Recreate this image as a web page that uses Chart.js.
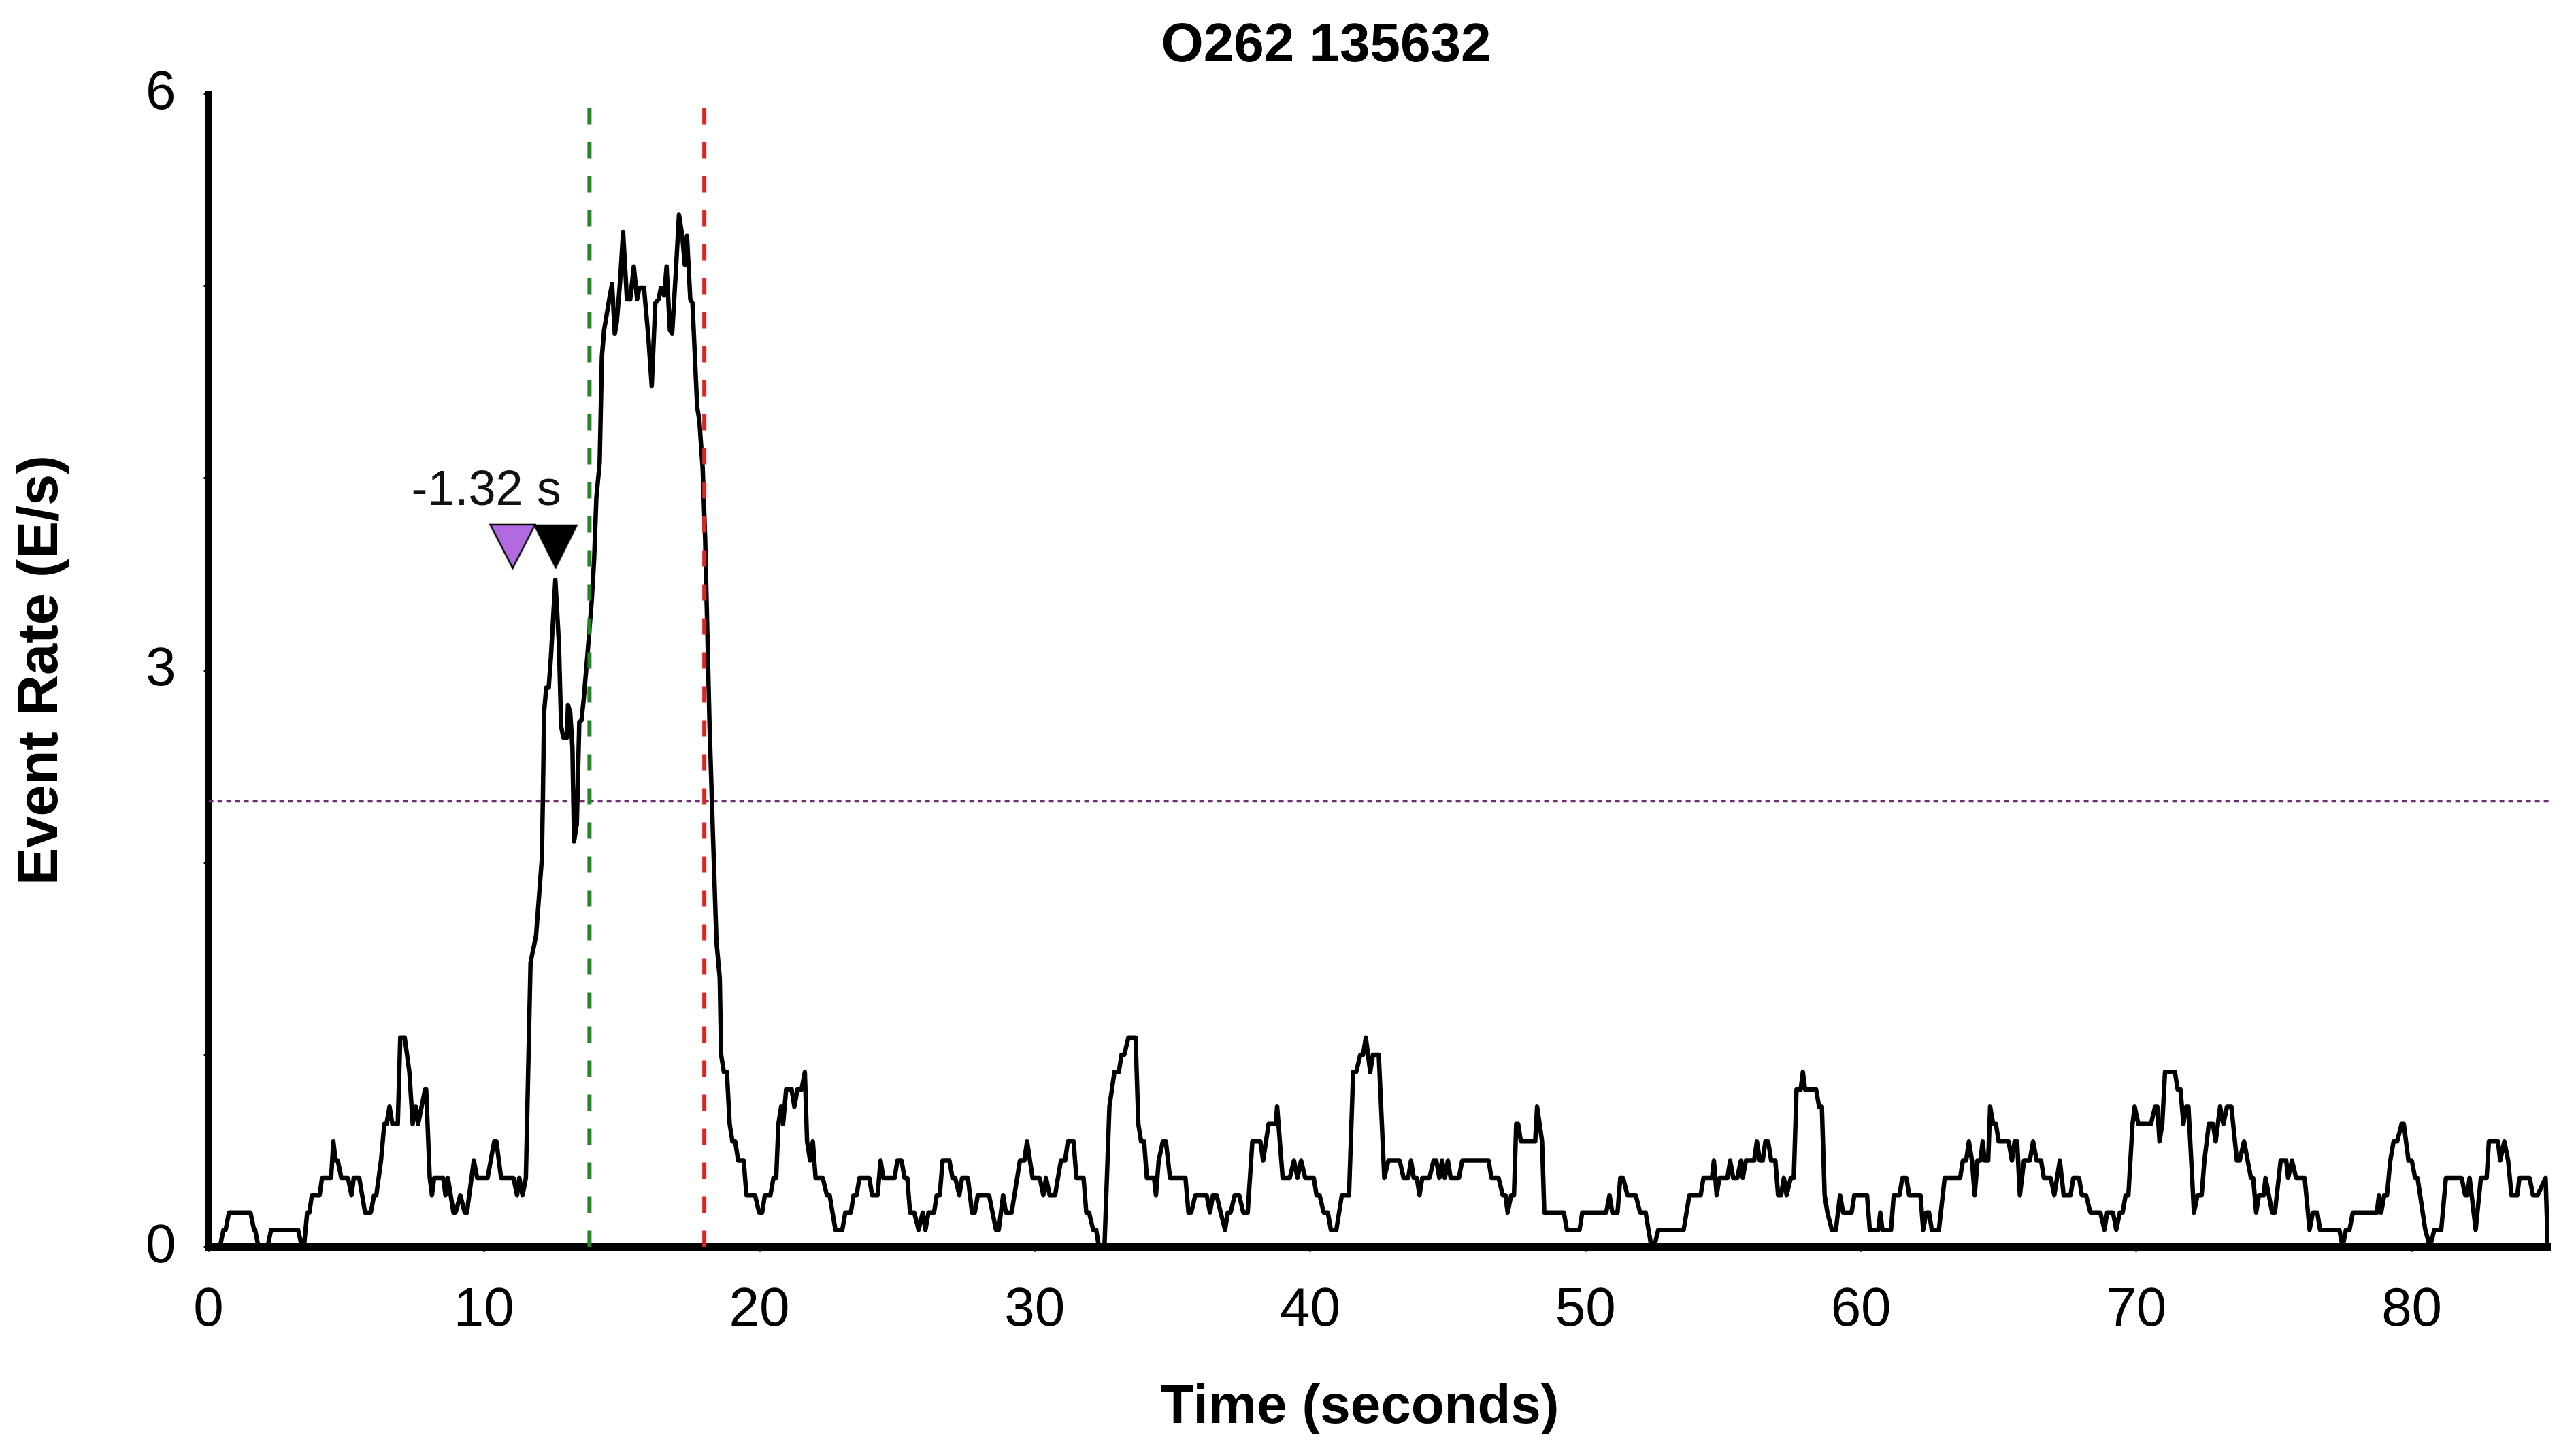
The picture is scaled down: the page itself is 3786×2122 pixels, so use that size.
<!DOCTYPE html>
<html>
<head>
<meta charset="utf-8">
<title>O262 135632</title>
<script src="https://cdn.jsdelivr.net/npm/chart.js@4.4.1/dist/chart.umd.min.js"></script>
<style>
  html, body { margin: 0; padding: 0; background: #fff; }
  #wrap { width: 3786px; height: 2122px; }
</style>
</head>
<body>
<div id="wrap"><canvas id="chart"></canvas></div>
<script>
// time (s) of each vertex of the light curve
const times = [
  // quiet start
  0, 0.41, 0.54, 0.62, 0.74, 1.52, 1.65, 1.69, 1.81, 2.14,
  2.27, 3.25, 3.39, 3.46, 3.58, 3.66, 3.75, 4.03, 4.12, 4.45,
  4.53, 4.61, 4.69, 4.82, 5.06, 5.19, 5.27, 5.47, 5.68, 5.89,
  6.01, 6.09, 6.26, 6.38, 6.46, 6.57, 6.67, 6.87, 6.96, 7.12,
  7.29, 7.41, 7.53, 7.61, 7.86, 7.90, 8.03, 8.11, 8.19, 8.52,
  8.60, 8.69, 8.89, 8.97, 9.14, 9.30, 9.38, 9.63, 9.75, 10.13,
  10.37, 10.45, 10.62, 11.07, 11.20, 11.28, 11.40, 11.52,
  // burst
  11.69, 11.89, 12.10, 12.14, 12.18, 12.26, 12.35, 12.43, 12.59, 12.72,
  12.80, 12.88, 13.01, 13.05, 13.13, 13.21, 13.27, 13.37, 13.46, 13.54,
  13.62, 13.75, 13.91, 14.00, 14.08, 14.20, 14.28, 14.36, 14.57, 14.65,
  14.75, 14.82, 14.94, 15.05, 15.19, 15.31, 15.44, 15.56, 15.64, 15.81,
  15.97, 16.09, 16.22, 16.34, 16.42, 16.54, 16.63, 16.75, 16.83, 16.96,
  17.08, 17.20, 17.29, 17.37, 17.49, 17.57, 17.74, 17.82, 17.94, 18.03,
  18.19, 18.31, 18.44, 18.56,
  // 18 - 34 s
  18.61, 18.71, 18.82, 18.92, 19.02, 19.12, 19.23, 19.43, 19.53, 19.84,
  19.99, 20.10, 20.20, 20.40, 20.51, 20.61, 20.69, 20.79, 20.86, 20.97,
  21.17, 21.27, 21.38, 21.53, 21.65, 21.73, 21.84, 21.94, 22.04, 22.30,
  22.45, 22.55, 22.76, 23.01, 23.12, 23.32, 23.42, 23.53, 23.63, 23.99,
  24.09, 24.29, 24.40, 24.50, 24.91, 25.01, 25.16, 25.27, 25.37, 25.47,
  25.62, 25.78, 25.93, 26.03, 26.14, 26.34, 26.44, 26.55, 26.65, 26.90,
  27.01, 27.11, 27.26, 27.36, 27.57, 27.72, 27.82, 27.93, 28.34, 28.59,
  28.69, 28.85, 28.95, 29.16, 29.46, 29.62, 29.72, 29.92, 30.18, 30.31,
  30.41, 30.54, 30.74, 30.84, 30.95, 31.10, 31.20, 31.41, 31.51, 31.77,
  31.87, 31.97, 32.12, 32.23, 32.33, 32.53, 32.71, 32.89, 33.05, 33.15,
  33.25, 33.40, 33.66, 33.76, 33.86, 33.97, 34.07, 34.33, 34.40,
  // 34 - 49 s
  34.50, 34.65, 34.76, 34.91, 35.47, 35.58, 35.68, 35.83, 36.24, 36.36,
  36.47, 36.60, 36.75, 36.91, 37.01, 37.11, 37.26, 37.42, 37.57, 37.73,
  37.90, 38.19, 38.29, 38.49, 38.75, 38.80, 39.00, 39.26, 39.41, 39.54,
  39.67, 39.82, 40.13, 40.23, 40.34, 40.49, 40.64, 40.75, 40.95, 41.15,
  41.41, 41.56, 41.67, 41.82, 41.92, 42.02, 42.18, 42.28, 42.49, 42.69,
  42.84, 43.25, 43.39, 43.56, 43.66, 43.76, 43.87, 43.97, 44.07, 44.33,
  44.48, 44.58, 44.69, 44.79, 44.89, 45.00, 45.10, 45.40, 45.52, 46.48,
  46.58, 46.84, 46.99, 47.09, 47.17, 47.30, 47.40, 47.48, 47.55, 47.65,
  48.17, 48.24, 48.42, 48.50, 49.21,
  // 49 - 64 s
  49.32, 49.78, 49.88, 50.75, 50.87, 50.97, 51.16, 51.26, 51.36, 51.52,
  51.82, 51.98, 52.18, 52.39, 52.49, 52.64, 53.56, 53.77, 54.18, 54.28,
  54.59, 54.66, 54.76, 54.86, 55.15, 55.25, 55.36, 55.51, 55.64, 55.71,
  55.82, 56.12, 56.22, 56.33, 56.43, 56.53, 56.63, 56.74, 56.89, 56.99,
  57.10, 57.20, 57.30, 57.45, 57.56, 57.66, 57.81, 57.89, 57.97, 58.37,
  58.48, 58.58, 58.68, 58.78, 58.94, 59.09, 59.24, 59.35, 59.66, 59.76,
  60.22, 60.32, 60.63, 60.70, 60.78, 61.09, 61.19, 61.40, 61.50, 61.65,
  61.75, 62.16, 62.26, 62.37, 62.47, 62.57, 62.83, 63.04, 63.60, 63.70,
  63.82, 63.92,
  // 64 - 85 s
  64.03, 64.13, 64.23, 64.34, 64.42, 64.49, 64.62, 64.69, 64.80, 64.90,
  65.00, 65.36, 65.48, 65.58, 65.67, 65.77, 65.92, 66.13, 66.25, 66.38,
  66.54, 66.64, 66.89, 67.02, 67.22, 67.36, 67.61, 67.71, 67.92, 68.02,
  68.17, 68.33, 68.69, 68.84, 68.94, 69.15, 69.27, 69.40, 69.50, 69.61,
  69.71, 69.86, 69.94, 70.07, 70.53, 70.68, 70.76, 70.84, 70.94, 71.04,
  71.40, 71.50, 71.60, 71.71, 71.81, 71.89, 72.09, 72.22, 72.37, 72.47,
  72.63, 72.78, 72.88, 73.04, 73.16, 73.29, 73.45, 73.65, 73.75, 73.91,
  74.16, 74.24, 74.35, 74.45, 74.62, 74.69, 74.93, 75.03, 75.24, 75.44,
  75.51, 75.65, 75.80, 76.11, 76.29, 76.41, 76.57, 76.67, 77.37, 77.49,
  77.61, 77.74, 77.86, 78.73, 78.81, 78.89, 79.00, 79.10, 79.22, 79.34,
  79.47, 79.63, 79.71, 79.88, 80.00, 80.12, 80.21, 80.49, 80.66, 80.82,
  81.07, 81.24, 81.81, 81.94, 82.02, 82.10, 82.32, 82.51, 82.72, 82.80,
  83.13, 83.21, 83.36, 83.50, 83.62, 83.83, 83.91, 84.28, 84.40, 84.57,
  84.86, 84.94
];

// event rate (E/s) at each of those times
const rates = [
  0, 0, 0.09, 0.09, 0.18, 0.18, 0.09, 0.09, 0, 0,
  0.09, 0.09, 0, 0, 0.18, 0.18, 0.27, 0.27, 0.36, 0.36,
  0.55, 0.45, 0.45, 0.36, 0.36, 0.27, 0.36, 0.36, 0.18, 0.18,
  0.27, 0.27, 0.45, 0.64, 0.64, 0.73, 0.64, 0.64, 1.09, 1.09,
  0.91, 0.64, 0.73, 0.64, 0.82, 0.82, 0.36, 0.27, 0.36, 0.36,
  0.27, 0.36, 0.18, 0.18, 0.27, 0.18, 0.18, 0.45, 0.36, 0.36,
  0.55, 0.55, 0.36, 0.36, 0.27, 0.36, 0.27, 0.36,

  1.48, 1.62, 2.02, 2.35, 2.78, 2.91, 2.91, 3.07, 3.47, 3.14,
  2.71, 2.65, 2.65, 2.82, 2.78, 2.60, 2.11, 2.20, 2.73, 2.74,
  2.85, 3.07, 3.36, 3.58, 3.90, 4.08, 4.63, 4.77, 4.95, 5.01,
  4.75, 4.81, 5.02, 5.28, 4.93, 4.93, 5.10, 4.93, 4.99, 4.99,
  4.73, 4.48, 4.91, 4.93, 4.99, 4.95, 5.10, 4.77, 4.75, 5.06,
  5.37, 5.26, 5.11, 5.26, 4.93, 4.91, 4.37, 4.30, 4.05, 3.68,
  2.71, 2.16, 1.59, 1.40,

  1.00, 0.91, 0.91, 0.64, 0.55, 0.55, 0.45, 0.45, 0.27, 0.27,
  0.18, 0.18, 0.27, 0.27, 0.36, 0.36, 0.64, 0.73, 0.64, 0.82,
  0.82, 0.73, 0.82, 0.82, 0.91, 0.55, 0.45, 0.55, 0.36, 0.36,
  0.27, 0.27, 0.09, 0.09, 0.18, 0.18, 0.27, 0.27, 0.36, 0.36,
  0.27, 0.27, 0.45, 0.36, 0.36, 0.45, 0.45, 0.36, 0.36, 0.18,
  0.18, 0.09, 0.18, 0.09, 0.18, 0.18, 0.27, 0.27, 0.45, 0.45,
  0.36, 0.36, 0.27, 0.36, 0.36, 0.18, 0.18, 0.27, 0.27, 0.09,
  0.09, 0.27, 0.18, 0.18, 0.45, 0.45, 0.55, 0.36, 0.36, 0.27,
  0.36, 0.27, 0.27, 0.36, 0.45, 0.45, 0.55, 0.55, 0.36, 0.36,
  0.18, 0.18, 0.09, 0.09, 0, 0, 0.73, 0.91, 0.91, 1.00,
  1.00, 1.09, 1.09, 0.64, 0.55, 0.55, 0.36, 0.36, 0.27,

  0.45, 0.55, 0.55, 0.36, 0.36, 0.18, 0.18, 0.27, 0.27, 0.18,
  0.27, 0.27, 0.18, 0.09, 0.18, 0.18, 0.27, 0.27, 0.18, 0.18,
  0.55, 0.55, 0.45, 0.64, 0.64, 0.73, 0.36, 0.36, 0.45, 0.36,
  0.45, 0.36, 0.36, 0.27, 0.27, 0.18, 0.18, 0.09, 0.09, 0.27,
  0.27, 0.91, 0.91, 1.00, 1.00, 1.09, 0.91, 1.00, 1.00, 0.36,
  0.45, 0.45, 0.36, 0.36, 0.45, 0.36, 0.36, 0.27, 0.36, 0.36,
  0.45, 0.45, 0.36, 0.45, 0.36, 0.45, 0.36, 0.36, 0.45, 0.45,
  0.36, 0.36, 0.27, 0.27, 0.18, 0.27, 0.27, 0.64, 0.64, 0.55,
  0.55, 0.73, 0.55, 0.18, 0.18,

  0.09, 0.09, 0.18, 0.18, 0.27, 0.18, 0.18, 0.36, 0.36, 0.27,
  0.27, 0.18, 0.18, 0, 0, 0.09, 0.09, 0.27, 0.27, 0.36,
  0.36, 0.45, 0.27, 0.36, 0.36, 0.45, 0.36, 0.36, 0.45, 0.36,
  0.45, 0.45, 0.55, 0.45, 0.45, 0.55, 0.55, 0.45, 0.45, 0.27,
  0.27, 0.36, 0.27, 0.36, 0.36, 0.82, 0.82, 0.91, 0.82, 0.82,
  0.73, 0.73, 0.27, 0.18, 0.09, 0.09, 0.27, 0.18, 0.18, 0.27,
  0.27, 0.09, 0.09, 0.18, 0.09, 0.09, 0.27, 0.27, 0.36, 0.36,
  0.27, 0.27, 0.09, 0.18, 0.18, 0.09, 0.09, 0.36, 0.36, 0.45,
  0.45, 0.55,

  0.45, 0.27, 0.45, 0.45, 0.55, 0.45, 0.45, 0.73, 0.64, 0.64,
  0.55, 0.55, 0.45, 0.55, 0.55, 0.27, 0.45, 0.45, 0.55, 0.45,
  0.45, 0.36, 0.36, 0.27, 0.45, 0.27, 0.27, 0.36, 0.36, 0.27,
  0.27, 0.18, 0.18, 0.09, 0.18, 0.18, 0.09, 0.18, 0.18, 0.27,
  0.27, 0.64, 0.73, 0.64, 0.64, 0.73, 0.73, 0.55, 0.64, 0.91,
  0.91, 0.82, 0.82, 0.64, 0.73, 0.73, 0.18, 0.27, 0.27, 0.45,
  0.64, 0.64, 0.55, 0.73, 0.64, 0.73, 0.73, 0.45, 0.45, 0.55,
  0.36, 0.36, 0.18, 0.27, 0.27, 0.36, 0.18, 0.18, 0.45, 0.45,
  0.36, 0.45, 0.36, 0.36, 0.09, 0.18, 0.18, 0.09, 0.09, 0,
  0.09, 0.09, 0.18, 0.18, 0.27, 0.18, 0.27, 0.27, 0.45, 0.55,
  0.55, 0.64, 0.64, 0.45, 0.45, 0.36, 0.36, 0.09, 0, 0.09,
  0.09, 0.36, 0.36, 0.27, 0.27, 0.36, 0.09, 0.36, 0.36, 0.55,
  0.55, 0.45, 0.55, 0.45, 0.27, 0.27, 0.36, 0.36, 0.27, 0.27,
  0.36, 0
];

// markers and reference lines
const markerTimes = [11.04, 12.6];     // purple, black triangles
const markerRate = 3.645;
const lagText = "-1.32 s";
const lagTextAt = [10.08, 3.86];
const startTime = 13.83;               // green dashed
const endTime = 18.0;                  // red dashed
const threshold = 2.32;                // purple dotted
const xMax = 85;
const yMax = 6;
const yLabelled = [0, 3, 6];
const xTitle = "Time (seconds)";

const FONT = "'Liberation Sans', Arial, Helvetica, sans-serif";

function triangleMark(fill, w, h) {
  const c = document.createElement("canvas");
  c.width = w + 4;
  c.height = h + 4;
  const g = c.getContext("2d");
  g.beginPath();
  g.moveTo(2, 2);
  g.lineTo(w + 2, 2);
  g.lineTo(w / 2 + 2, h + 2);
  g.closePath();
  g.fillStyle = fill;
  g.fill();
  g.lineWidth = 2.5;
  g.strokeStyle = "#000";
  g.stroke();
  return c;
}

// "-1.32 s" note and the x axis title (sits a little left of the plot centre)
const extraText = {
  id: "extraText",
  afterDraw(chart) {
    const { ctx, chartArea, scales: { x, y } } = chart;
    ctx.save();
    ctx.fillStyle = "#111";
    ctx.textAlign = "center";
    ctx.textBaseline = "alphabetic";
    ctx.font = "72px " + FONT;
    ctx.fillText(lagText, x.getPixelForValue(lagTextAt[0]), y.getPixelForValue(lagTextAt[1]));
    ctx.fillStyle = "#000";
    ctx.textBaseline = "middle";
    ctx.font = "bold 80px " + FONT;
    ctx.fillText(xTitle, (chartArea.left + chartArea.right) / 2 - 28, chart.height - 53);
    ctx.restore();
  }
};

const curve = times.map((t, i) => ({ x: t, y: rates[i] }));

new Chart(document.getElementById("chart"), {
  type: "line",
  data: {
    datasets: [
      {
        data: markerTimes.map(t => ({ x: t, y: markerRate })),
        showLine: false,
        pointStyle: [triangleMark("#b26ae0", 66, 64), triangleMark("#000", 62, 62)],
        pointRadius: 30,
        clip: false
      },
      {
        data: [{ x: startTime, y: 0 }, { x: startTime, y: yMax }],
        borderColor: "#24842a",
        borderWidth: 6,
        borderDash: [24, 26],
        pointRadius: 0
      },
      {
        data: [{ x: endTime, y: 0 }, { x: endTime, y: yMax }],
        borderColor: "#e2231d",
        borderWidth: 6,
        borderDash: [24, 26],
        pointRadius: 0
      },
      {
        data: curve,
        borderColor: "#000",
        borderWidth: 6.5,
        borderJoinStyle: "round",
        borderCapStyle: "round",
        tension: 0,
        pointRadius: 0
      },
      {
        data: [{ x: 0, y: threshold }, { x: xMax, y: threshold }],
        borderColor: "#6a2d72",
        borderWidth: 4,
        borderDash: [7, 6],
        pointRadius: 0
      }
    ]
  },
  options: {
    responsive: true,
    maintainAspectRatio: false,
    animation: false,
    devicePixelRatio: 1,
    layout: { padding: { left: 151, right: 39, top: 0, bottom: 0 } },
    plugins: {
      legend: { display: false },
      tooltip: { enabled: false },
      title: {
        display: true,
        text: "O262 135632",
        color: "#000",
        font: { family: FONT, size: 80, weight: "bold" },
        padding: { top: 20, bottom: 21.6 }
      }
    },
    scales: {
      x: {
        type: "linear",
        min: 0,
        max: xMax,
        afterBuildTicks: s => { s.ticks = s.ticks.filter(t => t.value % 10 === 0); },
        afterFit: s => { s.height = 289.4; },
        ticks: {
          stepSize: 10,
          color: "#000",
          font: { family: FONT, size: 80 },
          padding: 38,
          maxRotation: 0,
          autoSkip: false
        },
        grid: { drawOnChartArea: false, tickLength: 7, color: "#000", lineWidth: 3 },
        border: { display: true, color: "#000", width: 11 },
        title: { display: false }
      },
      y: {
        min: 0,
        max: yMax,
        afterFit: s => { s.width = 155.6; },
        ticks: {
          stepSize: 1,
          color: "#000",
          font: { family: FONT, size: 80 },
          padding: 41,
          callback: v => (yLabelled.includes(v) ? String(v) : "")
        },
        grid: { drawOnChartArea: false, tickLength: 7, color: "#000", lineWidth: 3 },
        border: { display: true, color: "#000", width: 10 },
        title: {
          display: true,
          text: "Event Rate (E/s)",
          color: "#000",
          font: { family: FONT, size: 83, weight: "bold" },
          padding: { top: -139.2, bottom: 0 }
        }
      }
    }
  },
  plugins: [extraText]
});
</script>
</body>
</html>
